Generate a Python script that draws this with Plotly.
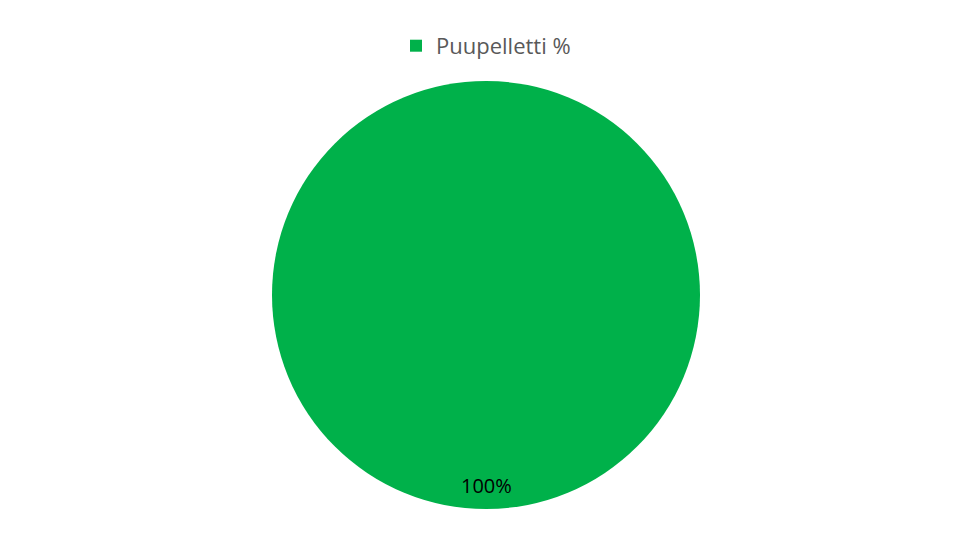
import plotly.graph_objects as go

labels = ["Puupelletti %"]
values = [100]
colors = ["#00B14A"]

total = sum(values)
pct_text = [f"{v / total * 100:.0f}%" for v in values]

fig = go.Figure()
fig.add_trace(go.Pie(
    labels=labels,
    values=values,
    marker=dict(colors=colors, line=dict(width=0)),
    textinfo="none",
    sort=False,
    hole=0,
    showlegend=True,
))

# Excel places the single label near the bottom edge of the slice
fig.add_annotation(
    x=0.5, y=0.054, xref="paper", yref="paper",
    text=pct_text[0], showarrow=False,
    font=dict(size=20, color="#000000", family="Open Sans, sans-serif"),
    xanchor="center", yanchor="middle",
)

# page body adds 8px offset, so margins compensate
fig.update_layout(
    width=976, height=548,
    margin=dict(l=0, r=20, t=73, b=47),
    paper_bgcolor="white",
    plot_bgcolor="white",
    font=dict(family="Open Sans, sans-serif"),
    legend=dict(
        orientation="h", x=0.5, xanchor="center", y=1.082, yanchor="middle",
        font=dict(size=22, color="#595959"),
        itemsizing="constant",
    ),
)

fig.write_html("out.html")
